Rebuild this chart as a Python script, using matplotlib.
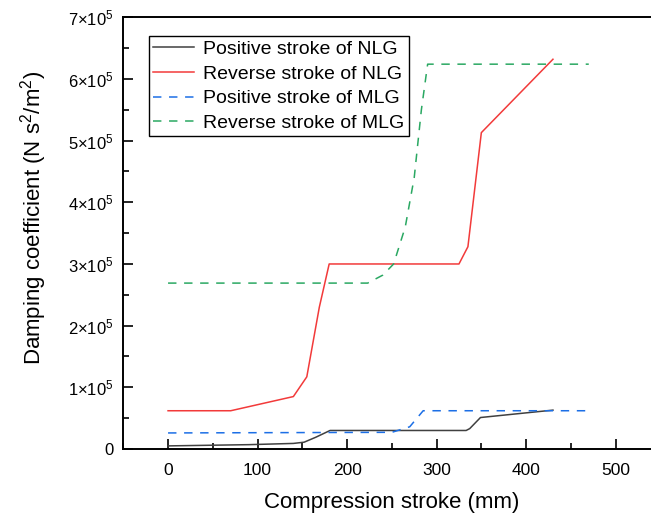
import matplotlib
matplotlib.use("Agg")
import matplotlib.pyplot as plt
from matplotlib.ticker import MultipleLocator, FuncFormatter

plt.rcParams['font.family'] = ['Liberation Sans', 'DejaVu Sans']
plt.rcParams['mathtext.fontset'] = 'custom'
plt.rcParams['mathtext.rm'] = 'Liberation Sans'
plt.rcParams['mathtext.it'] = 'Liberation Sans:italic'

# positive stroke of NLG
x_pos_nlg = [0, 90, 140, 152, 165, 181, 333, 337, 349, 430]
y_pos_nlg = [5000, 7000, 9000, 11000, 19000, 30000, 30000, 33000, 51000, 63000]

# reverse stroke of NLG
x_rev_nlg = [0, 70, 140, 155, 169, 180, 325, 335, 350, 430]
y_rev_nlg = [62000, 62000, 85000, 117000, 230000, 300000, 300000, 328000, 513000, 632000]

# positive stroke of MLG
x_pos_mlg = [0, 250, 270, 285, 470]
y_pos_mlg = [26000, 27000, 36000, 62000, 62000]

# reverse stroke of MLG
x_rev_mlg = [0, 223, 240, 252, 265, 275, 283, 290, 470]
y_rev_mlg = [269000, 269000, 282000, 300000, 360000, 440000, 550000, 624000, 624000]

fig = plt.figure(figsize=(6.51, 5.15), dpi=100)
ax = fig.add_axes([0.1894, 0.1282, 0.825, 0.8382])

lw = 1.1
ax.plot(x_pos_nlg, y_pos_nlg, color='#404040', lw=lw, label='Positive stroke of NLG')
ax.plot(x_rev_nlg, y_rev_nlg, color='#f23a3a', lw=lw, label='Reverse stroke of NLG')
ax.plot(x_pos_mlg, y_pos_mlg, color='#1c6fe6', lw=lw, dashes=(5.5, 5), label='Positive stroke of MLG')
ax.plot(x_rev_mlg, y_rev_mlg, color='#2aa862', lw=lw, dashes=(5.5, 5), label='Reverse stroke of MLG')

ax.set_xlim(-50, 550)
ax.set_ylim(0, 700000)
ax.xaxis.set_major_locator(MultipleLocator(100))
ax.xaxis.set_minor_locator(MultipleLocator(50))
ax.yaxis.set_major_locator(MultipleLocator(100000))
ax.yaxis.set_minor_locator(MultipleLocator(50000))


def yfmt(v, pos):
    n = int(round(v / 100000))
    if n == 0:
        return '0'
    return r'$%d{\times}10^5$' % n


ax.yaxis.set_major_formatter(FuncFormatter(yfmt))
ax.tick_params(which='both', direction='in', labelsize=12.5, width=1.2)
ax.tick_params(which='major', length=7)
ax.tick_params(which='minor', length=4)
ax.tick_params(axis='x', pad=10)
ax.tick_params(axis='y', labelsize=12, pad=7)
for s in ax.spines.values():
    s.set_linewidth(1.4)

ax.set_xlabel('Compression stroke (mm)', fontsize=16)
ax.set_ylabel(r'Damping coefficient (N s$^2$/m$^2$)', fontsize=16)
ax.xaxis.set_label_coords(0.5, -0.124)
ax.xaxis.label.set_va('center')
ax.yaxis.set_label_coords(-0.168, 0.536)
ax.yaxis.label.set_va('center')

leg = ax.legend(loc='upper left', bbox_to_anchor=(0.048, 0.957), fontsize=14,
                frameon=True, fancybox=False, edgecolor='black', framealpha=1,
                handlelength=2.1, labelspacing=0.37, borderpad=0.22, handletextpad=0.46,
                borderaxespad=0)
leg.get_frame().set_linewidth(1.0)

plt.savefig('out.png', dpi=100)
